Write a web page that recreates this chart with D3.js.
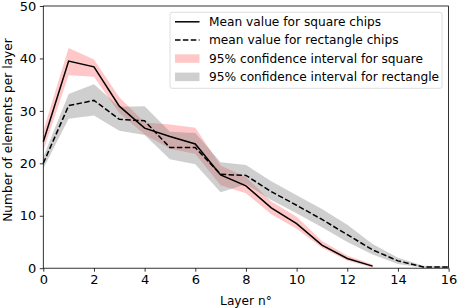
<!DOCTYPE html>
<html>
<head>
<meta charset="utf-8">
<script src="https://cdn.jsdelivr.net/npm/d3@7"></script>
<style>
  body { margin: 0; background: #fff; }
  text { font-family: "DejaVu Sans", sans-serif; fill: #000; }
</style>
</head>
<body>
<div id="chart"></div>
<script>
// Layer index for each point
const layers = [0, 1, 2, 3, 4, 5, 6, 7, 8, 9, 10, 11, 12, 13, 14, 15, 16];

// Square chips: mean and 95% CI
const squareMean  = [24.1, 39.5, 38.4, 30.9, 26.7, 25.1, 23.7, 17.8, 15.7, 11.5, 8.5, 4.4, 1.85, 0.4];
const squareLow   = [22.4, 36.8, 36.5, 29.6, 25.5, 22.8, 21.8, 15.8, 14.3, 10.3, 7.5, 3.9, 1.4, 0.15];
const squareHigh  = [26.2, 42.0, 39.8, 32.6, 27.8, 27.4, 26.8, 19.6, 17.4, 12.7, 9.8, 5.2, 2.4, 0.7];

// Rectangle chips: mean and 95% CI
const rectMean = [20.0, 31.0, 32.0, 28.4, 28.1, 23.0, 23.0, 17.9, 17.7, 14.6, 12.0, 9.3, 6.4, 3.5, 1.4, 0.25, 0.25];
const rectLow  = [19.0, 28.5, 29.1, 26.2, 25.4, 20.8, 19.8, 14.5, 16.0, 13.0, 10.5, 7.8, 5.0, 2.6, 0.8, 0.1, 0.1];
const rectHigh = [21.2, 33.2, 35.1, 30.8, 30.9, 26.0, 25.8, 20.2, 19.7, 16.6, 13.9, 11.3, 8.3, 4.6, 2.0, 0.45, 0.35];

const xTicks = [0, 2, 4, 6, 8, 10, 12, 14, 16];
const yTicks = [0, 10, 20, 30, 40, 50];

const legendLabels = [
  "Mean value for square chips",
  "mean value for rectangle chips",
  "95% confidence interval for square",
  "95% confidence interval for rectangle"
];

const width = 457, height = 308;
const margin = {left: 43.3, right: 457 - 448.6, top: 6, bottom: 308 - 268.2};

const svg = d3.select("#chart").append("svg")
  .attr("width", width)
  .attr("height", height);

const x = d3.scaleLinear().domain([0, 16]).range([margin.left, width - margin.right]);
const y = d3.scaleLinear().domain([0, 50]).range([height - margin.bottom, margin.top]);

const sq = squareMean.map((m, i) => ({x: layers[i], m, lo: squareLow[i], hi: squareHigh[i]}));
const rc = rectMean.map((m, i) => ({x: layers[i], m, lo: rectLow[i], hi: rectHigh[i]}));

const area = d3.area().x(d => x(d.x)).y0(d => y(d.lo)).y1(d => y(d.hi));
const line = d3.line().x(d => x(d.x)).y(d => y(d.m));

// confidence bands
svg.append("path").datum(sq).attr("d", area)
  .attr("fill", "#ff0000").attr("fill-opacity", 0.22);
svg.append("path").datum(rc).attr("d", area)
  .attr("fill", "#808080").attr("fill-opacity", 0.38);

// mean lines
svg.append("path").datum(sq).attr("d", line)
  .attr("fill", "none").attr("stroke", "#000").attr("stroke-width", 1.5);
svg.append("path").datum(rc).attr("d", line)
  .attr("fill", "none").attr("stroke", "#000").attr("stroke-width", 1.5)
  .attr("stroke-dasharray", "5.5,2.4");

// axes
const xAxis = svg.append("g")
  .attr("transform", `translate(0,${height - margin.bottom})`)
  .call(d3.axisBottom(x).tickValues(xTicks).tickSize(3.5).tickPadding(3.5).tickFormat(d3.format("d")));
const yAxis = svg.append("g")
  .attr("transform", `translate(${margin.left},0)`)
  .call(d3.axisLeft(y).tickValues(yTicks).tickSize(3.5).tickPadding(3.5).tickFormat(d3.format("d")));

[xAxis, yAxis].forEach(a => {
  a.select(".domain").remove();
  a.selectAll("line").attr("stroke", "#000").attr("stroke-width", 0.8);
  a.selectAll("text").style("font-family", "DejaVu Sans").style("font-size", "13px").attr("fill", "#000");
});

// frame
svg.append("rect")
  .attr("x", margin.left).attr("y", margin.top)
  .attr("width", width - margin.left - margin.right)
  .attr("height", height - margin.top - margin.bottom)
  .attr("fill", "none").attr("stroke", "#000").attr("stroke-width", 0.8);

// axis labels
svg.append("text")
  .attr("x", (margin.left + width - margin.right) / 2)
  .attr("y", 304.5)
  .attr("text-anchor", "middle")
  .style("font-size", "12.2px")
  .text("Layer n°");

svg.append("text")
  .attr("transform", `translate(11.5,130) rotate(-90)`)
  .attr("text-anchor", "middle")
  .style("font-size", "12.2px")
  .text("Number of elements per layer");

// legend
const lg = svg.append("g");
lg.append("rect")
  .attr("x", 170).attr("y", 12.3)
  .attr("width", 272).attr("height", 76)
  .attr("rx", 2)
  .attr("fill", "#fff").attr("fill-opacity", 0.8)
  .attr("stroke", "#d6d6d6").attr("stroke-width", 0.8);

const rowY = [21.8, 40, 58.3, 76.6];
lg.append("line").attr("x1", 175).attr("x2", 199.5).attr("y1", rowY[0]).attr("y2", rowY[0])
  .attr("stroke", "#000").attr("stroke-width", 1.5);
lg.append("line").attr("x1", 175).attr("x2", 199.5).attr("y1", rowY[1]).attr("y2", rowY[1])
  .attr("stroke", "#000").attr("stroke-width", 1.5).attr("stroke-dasharray", "5.5,2.4");
lg.append("rect").attr("x", 175).attr("y", rowY[2] - 4).attr("width", 24.5).attr("height", 8.5)
  .attr("fill", "#ff0000").attr("fill-opacity", 0.22);
lg.append("rect").attr("x", 175).attr("y", rowY[3] - 4).attr("width", 24.5).attr("height", 8.5)
  .attr("fill", "#808080").attr("fill-opacity", 0.38);

lg.selectAll("text.lab")
  .data(legendLabels)
  .join("text")
  .attr("class", "lab")
  .attr("x", 209)
  .attr("y", (d, i) => rowY[i])
  .attr("dy", "0.36em")
  .style("font-size", "12.2px")
  .text(d => d);
</script>
</body>
</html>
